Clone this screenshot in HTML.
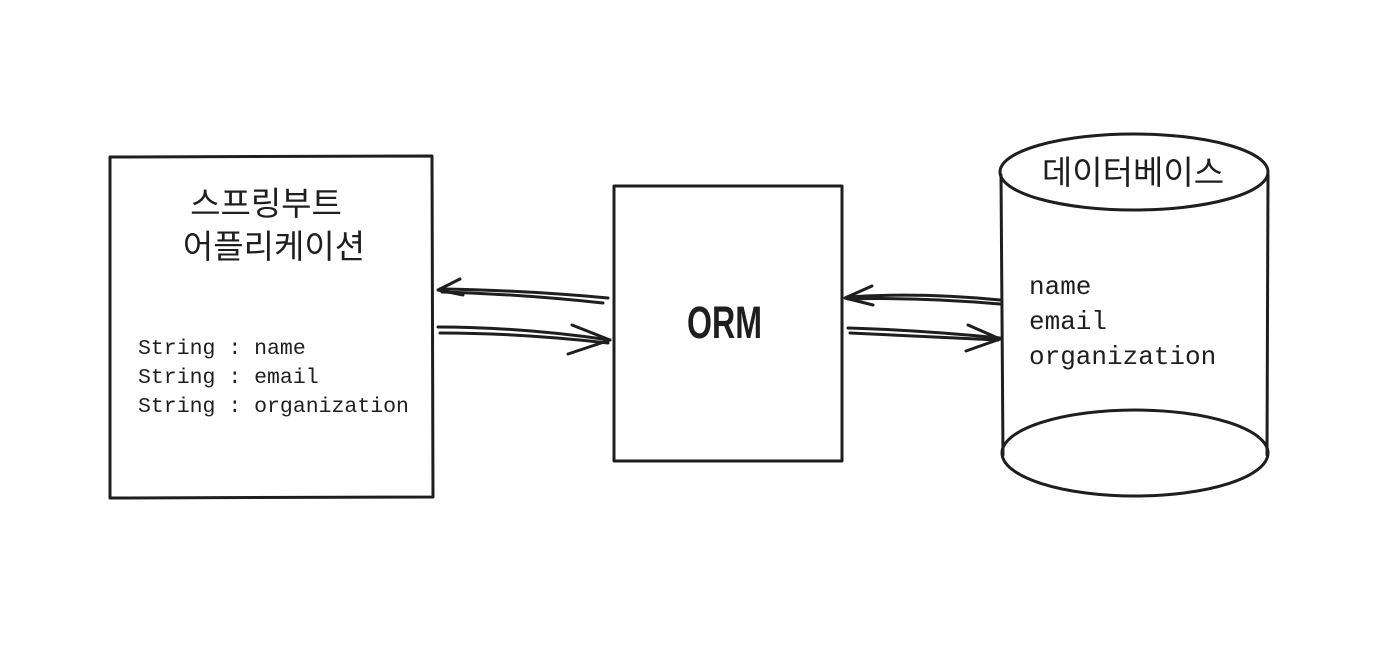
<!DOCTYPE html>
<html><head><meta charset="utf-8"><style>
html,body{margin:0;padding:0;background:#fff;}
svg{display:block}
.k{font-family:"Liberation Sans","Noto Sans CJK KR",sans-serif;font-size:33px;fill:#1e1e1e}
.m{font-family:"Liberation Mono","DejaVu Sans Mono",monospace;fill:#1e1e1e}
</style></head><body>
<svg width="1374" height="662" viewBox="0 0 1374 662" xmlns="http://www.w3.org/2000/svg">
<g fill="none" stroke="#1e1e1e" stroke-width="3" stroke-linecap="round" stroke-linejoin="round">
<path d="M110 157 L432 156 L433 497 L110 498 Z"/>
<path d="M614 186 L842 186 L842 461 L614 461 Z"/>
<ellipse cx="1134" cy="172" rx="134" ry="38"/>
<path d="M1001 175 L1003 455"/>
<path d="M1268 175 L1267 455"/>
<ellipse cx="1135" cy="453" rx="133" ry="43"/>
<path d="M608 298 Q520 290 440 289"/>
<path d="M603 303 Q520 294 442 292"/>
<path d="M460 279 L438 290 L463 295"/>
<path d="M438 327 Q520 327 610 340"/>
<path d="M440 333 Q520 333 608 343"/>
<path d="M572 325 L610 340 L568 354"/>
<path d="M1000 300 Q920 292 847 297"/>
<path d="M1000 304 Q920 297 848 299"/>
<path d="M872 286 L845 298 L873 305"/>
<path d="M848 328 Q920 330 1000 338"/>
<path d="M850 333 Q920 336 998 340"/>
<path d="M968 325 L1000 339 L966 351"/>
</g>
<text class="k" x="266" y="215" text-anchor="middle">스프링부트</text>
<text class="k" x="274" y="258" text-anchor="middle">어플리케이션</text>
<text class="m" font-size="21.5" x="138" y="354">String : name</text>
<text class="m" font-size="21.5" x="138" y="383">String : email</text>
<text class="m" font-size="21.5" x="138" y="412">String : organization</text>
<text x="687" y="338" textLength="75" lengthAdjust="spacingAndGlyphs" font-family="Liberation Sans,sans-serif" font-size="45" font-weight="bold" fill="#1e1e1e">ORM</text>
<text class="k" x="1133" y="184" text-anchor="middle">데이터베이스</text>
<text class="m" font-size="26" x="1029" y="294">name</text>
<text class="m" font-size="26" x="1029" y="329">email</text>
<text class="m" font-size="26" x="1029" y="364">organization</text>
</svg>
</body></html>
